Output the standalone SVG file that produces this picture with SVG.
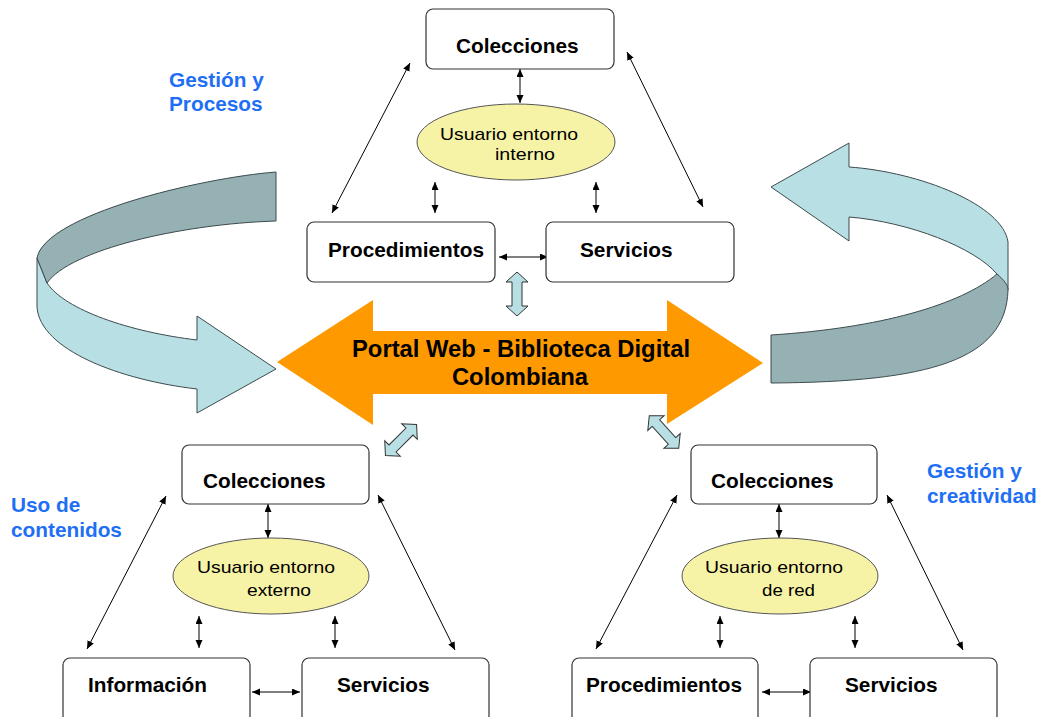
<svg xmlns="http://www.w3.org/2000/svg" width="1039" height="717" viewBox="0 0 1039 717">
<style>
.box{fill:#fff;stroke:#333;stroke-width:1.2}
.ell{fill:#f7f3a6;stroke:#555;stroke-width:1}
.lbl{font-family:"Liberation Sans",Arial,sans-serif;font-weight:bold;font-size:20.8px;fill:#000}
.el{font-family:"Liberation Sans",Arial,sans-serif;font-size:17px;fill:#000}
.blue{font-family:"Liberation Sans",Arial,sans-serif;font-weight:bold;font-size:20.8px;fill:#1f6ff6}
.main{font-family:"Liberation Sans",Arial,sans-serif;font-weight:bold;font-size:23.8px;fill:#000}
.con{stroke:#000;stroke-width:1;fill:none;marker-start:url(#ah);marker-end:url(#ah)}
.dark{fill:#95b1b4;stroke:#3d4b4d;stroke-width:1}
.light{fill:#b8dfe3;stroke:#3d4b4d;stroke-width:1}
.blk{fill:#b8dfe3;stroke:#333;stroke-width:1}
</style>
<defs>
<marker id="ah" markerUnits="userSpaceOnUse" markerWidth="9" markerHeight="8" refX="8" refY="3.5" orient="auto-start-reverse">
<path d="M0,0 L8,3.5 L0,7 z" fill="#000"/>
</marker>
<path id="dbl" d="M-22,0 L-12,-11 L-12,-5 L12,-5 L12,-11 L22,0 L12,11 L12,5 L-12,5 L-12,11 z"/>
</defs>
<rect width="1039" height="717" fill="#fff"/>

<g id="cycle-left">
<path class="light" d="M37,258 L37,307 C40,350 120,380 197,389 L197,413 L276,369 L197,316 L197,340 C130,332 65,310 47,283 z"/>
<path class="dark" d="M276,172 C200,178 45,215 37,258 L47,283 C70,250 180,224 276,221 z"/>
</g>
<g id="cycle-right">
<path class="light" d="M771,187 L849,143 L849,167 C920,172 1003,205 1008,242 L1008,290 L997,274 C975,248 910,222 849,217 L849,241 z"/>
<path class="dark" d="M1008,290 C1006,360 930,382 771,383 L771,335 C880,328 960,305 997,274 C1004,280 1008,285 1008,290 z"/>
</g>

<g id="portal">
<polygon points="277,362 373,300 373,331 667,331 667,300 763,363 667,424 667,394 373,394 373,425" fill="#ff9900"/>
<text class="main" x="521" y="357" text-anchor="middle">Portal Web - Biblioteca Digital</text>
<text class="main" x="520" y="385" text-anchor="middle">Colombiana</text>
</g>

<g id="links-block">
<use href="#dbl" class="blk" transform="translate(517,294) rotate(90)"/>
<use href="#dbl" class="blk" transform="translate(401,440) rotate(-45)"/>
<use href="#dbl" class="blk" transform="translate(664,432) rotate(48)"/>
</g>

<g id="labels">
<text class="blue" x="169" y="87">Gestión y</text>
<text class="blue" x="169" y="111">Procesos</text>
<text class="blue" x="11" y="512">Uso de</text>
<text class="blue" x="11" y="537">contenidos</text>
<text class="blue" x="927" y="478">Gestión y</text>
<text class="blue" x="927" y="503">creatividad</text>
</g>

<g id="connectors">
<line class="con" x1="520" y1="69" x2="520" y2="103"/>
<line class="con" x1="435" y1="182" x2="435" y2="213"/>
<line class="con" x1="596" y1="182" x2="596" y2="213"/>
<line class="con" x1="410" y1="63" x2="332" y2="213"/>
<line class="con" x1="627" y1="52" x2="703" y2="207"/>
<line class="con" x1="499" y1="257" x2="548" y2="257"/>

<line class="con" x1="268" y1="504" x2="268" y2="538"/>
<line class="con" x1="199" y1="616" x2="199" y2="648"/>
<line class="con" x1="335" y1="616" x2="335" y2="648"/>
<line class="con" x1="166" y1="496" x2="87" y2="649"/>
<line class="con" x1="378" y1="495" x2="455" y2="650"/>
<line class="con" x1="252" y1="692" x2="300" y2="692"/>

<line class="con" x1="779" y1="504" x2="779" y2="538"/>
<line class="con" x1="720" y1="616" x2="720" y2="648"/>
<line class="con" x1="855" y1="616" x2="855" y2="648"/>
<line class="con" x1="677" y1="495" x2="596" y2="649"/>
<line class="con" x1="887" y1="495" x2="963" y2="650"/>
<line class="con" x1="762" y1="692" x2="811" y2="692"/>
</g>

<g id="top-colecciones">
<rect class="box" x="426" y="9" width="188" height="60" rx="7"/>
<text class="lbl" x="456" y="53">Colecciones</text>
</g>
<g id="top-usuario">
<ellipse class="ell" cx="516" cy="142" rx="99" ry="38"/>
<text class="el" x="440" y="140" textLength="138" lengthAdjust="spacingAndGlyphs">Usuario entorno</text>
<text class="el" x="495" y="160" textLength="60" lengthAdjust="spacingAndGlyphs">interno</text>
</g>
<g id="top-procedimientos">
<rect class="box" x="307" y="222" width="188" height="60" rx="7"/>
<text class="lbl" x="328" y="257">Procedimientos</text>
</g>
<g id="top-servicios">
<rect class="box" x="546" y="222" width="188" height="60" rx="7"/>
<text class="lbl" x="580" y="257">Servicios</text>
</g>

<g id="bl-colecciones">
<rect class="box" x="182" y="445" width="187" height="59" rx="7"/>
<text class="lbl" x="203" y="488">Colecciones</text>
</g>
<g id="bl-usuario">
<ellipse class="ell" cx="271" cy="576" rx="98" ry="38"/>
<text class="el" x="197" y="573" textLength="138" lengthAdjust="spacingAndGlyphs">Usuario entorno</text>
<text class="el" x="247" y="596" textLength="64" lengthAdjust="spacingAndGlyphs">externo</text>
</g>
<g id="bl-informacion">
<rect class="box" x="63" y="658" width="187" height="66" rx="7"/>
<text class="lbl" x="88" y="692">Información</text>
</g>
<g id="bl-servicios">
<rect class="box" x="302" y="658" width="187" height="66" rx="7"/>
<text class="lbl" x="337" y="692">Servicios</text>
</g>

<g id="br-colecciones">
<rect class="box" x="691" y="445" width="186" height="59" rx="7"/>
<text class="lbl" x="711" y="488">Colecciones</text>
</g>
<g id="br-usuario">
<ellipse class="ell" cx="780" cy="576" rx="98" ry="38"/>
<text class="el" x="705" y="573" textLength="138" lengthAdjust="spacingAndGlyphs">Usuario entorno</text>
<text class="el" x="762" y="596" textLength="53" lengthAdjust="spacingAndGlyphs">de red</text>
</g>
<g id="br-procedimientos">
<rect class="box" x="572" y="658" width="186" height="66" rx="7"/>
<text class="lbl" x="586" y="692">Procedimientos</text>
</g>
<g id="br-servicios">
<rect class="box" x="810" y="658" width="187" height="66" rx="7"/>
<text class="lbl" x="845" y="692">Servicios</text>
</g>
</svg>
